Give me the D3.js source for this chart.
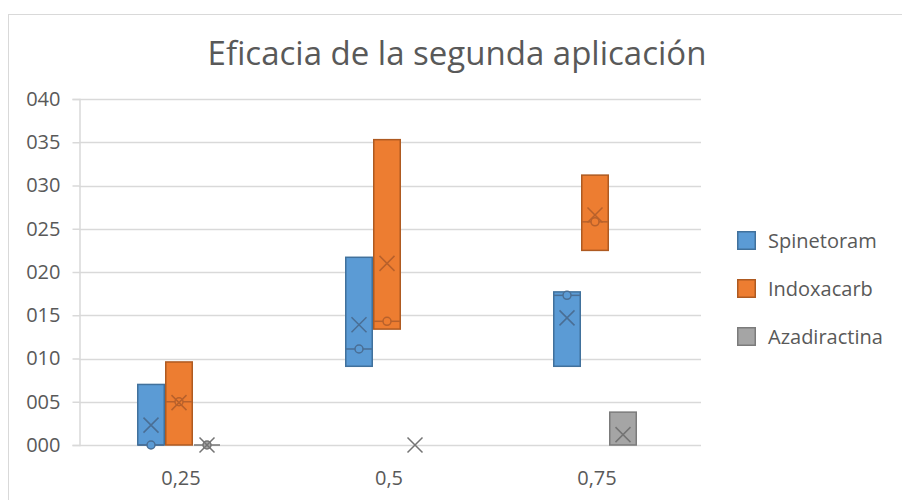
<!DOCTYPE html>
<html>
<head>
<meta charset="utf-8">
<script src="https://cdn.jsdelivr.net/npm/d3@7"></script>
<style>
  html, body { margin: 0; padding: 0; background: #ffffff; }
  svg { display: block; font-family: "Open Sans", sans-serif; }
</style>
</head>
<body>
<svg id="chart" width="902" height="500"></svg>
<script>
// Dose levels on the x axis and the three insecticides compared
const categories = ["0,25", "0,5", "0,75"];
const seriesNames = ["Spinetoram", "Indoxacarb", "Azadiractina"];

// Box statistics per insecticide, one value per dose
const q1Spinetoram = [0, 9.1, 9.1];
const q3Spinetoram = [7.0, 21.7, 17.7];
const medianSpinetoram = [0, 11.1, 17.3];
const meanSpinetoram = [2.3, 13.9, 14.7];

const q1Indoxacarb = [0, 13.4, 22.5];
const q3Indoxacarb = [9.6, 35.3, 31.2];
const medianIndoxacarb = [5.0, 14.3, 25.8];
const meanIndoxacarb = [4.9, 21.0, 26.6];

const q1Azadiractina = [0, 0, 0];
const q3Azadiractina = [0, 0, 3.8];
const medianAzadiractina = [0, null, null];
const meanAzadiractina = [0, 0, 1.2];

const yTicks = [0, 5, 10, 15, 20, 25, 30, 35, 40];

const seriesStats = {
  Spinetoram: { q1: q1Spinetoram, q3: q3Spinetoram, median: medianSpinetoram, mean: meanSpinetoram },
  Indoxacarb: { q1: q1Indoxacarb, q3: q3Indoxacarb, median: medianIndoxacarb, mean: meanIndoxacarb },
  Azadiractina: { q1: q1Azadiractina, q3: q3Azadiractina, median: medianAzadiractina, mean: meanAzadiractina }
};

const fills = { Spinetoram: "#5b9bd5", Indoxacarb: "#ed7d31", Azadiractina: "#a5a5a5" };
const strokes = { Spinetoram: "#41719c", Indoxacarb: "#ae5a21", Azadiractina: "#7b7b7b" };
const markColors = { Spinetoram: "#4a6e94", Indoxacarb: "#b8612b", Azadiractina: "#747474" };

const svg = d3.select("#chart");

// Chart area frame
svg.append("rect")
  .attr("x", 8.5).attr("y", 14.5)
  .attr("width", 902).attr("height", 500)
  .attr("fill", "#ffffff")
  .attr("stroke", "#d9d9d9").attr("stroke-width", 1);

const plotLeft = 79, plotRight = 701, plotTop = 99, plotBottom = 445;

const x = d3.scaleBand().domain(categories).range([75, 699]).padding(0);
const xs = d3.scaleBand().domain(seriesNames).range([-42, 42]).padding(0);
const y = d3.scaleLinear().domain([0, 40]).range([plotBottom, plotTop]);

// Title
svg.append("text")
  .attr("x", 457).attr("y", 65)
  .attr("text-anchor", "middle")
  .attr("font-size", 33)
  .attr("fill", "#595959")
  .text("Eficacia de la segunda aplicación");

// Horizontal gridlines
svg.append("g").selectAll("line")
  .data(yTicks)
  .join("line")
  .attr("x1", plotLeft).attr("x2", plotRight)
  .attr("y1", d => Math.round(y(d)) + 0.5).attr("y2", d => Math.round(y(d)) + 0.5)
  .attr("stroke", "#d9d9d9").attr("stroke-width", 1.5);

// Value axis with zero-padded labels
const yAxis = svg.append("g")
  .attr("transform", `translate(${plotLeft + 0.5},0)`)
  .call(d3.axisLeft(y).tickValues(yTicks).tickSize(7).tickPadding(12)
    .tickFormat(d => String(d).padStart(3, "0")));
yAxis.select(".domain").attr("stroke", "#d9d9d9").attr("stroke-width", 1.5);
yAxis.selectAll(".tick line").attr("stroke", "#d9d9d9").attr("stroke-width", 1.5);
yAxis.selectAll(".tick text")
  .attr("font-size", 20).attr("fill", "#595959")
  .attr("font-family", "'Open Sans', sans-serif");

// Category labels
svg.append("g").selectAll("text")
  .data(categories)
  .join("text")
  .attr("x", d => x(d) + x.bandwidth() / 2 + 2)
  .attr("y", 485)
  .attr("text-anchor", "middle")
  .attr("font-size", 20)
  .attr("fill", "#595959")
  .text(d => d);

// Boxes with median and mean markers
const boxes = [];
seriesNames.forEach(name => {
  const s = seriesStats[name];
  categories.forEach((c, i) => {
    boxes.push({ name, cat: c, q1: s.q1[i], q3: s.q3[i], median: s.median[i], mean: s.mean[i] });
  });
});

const boxG = svg.append("g");
boxes.forEach(b => {
  const x0 = x(b.cat) + x.bandwidth() / 2 + xs(b.name);
  const w = xs.bandwidth();
  const g = boxG.append("g");
  if (b.q3 > b.q1) {
    g.append("rect")
      .attr("x", x0 + 0.75).attr("y", y(b.q3))
      .attr("width", w - 1.5).attr("height", y(b.q1) - y(b.q3))
      .attr("fill", fills[b.name])
      .attr("stroke", strokes[b.name]).attr("stroke-width", 1.5);
  }
  const cx = x0 + w / 2;
  if (b.median !== null) {
    const my = y(b.median);
    g.append("line")
      .attr("x1", x0 + 1).attr("x2", x0 + w - 1)
      .attr("y1", my).attr("y2", my)
      .attr("stroke", markColors[b.name]).attr("stroke-width", 1.5);
    g.append("circle")
      .attr("cx", cx).attr("cy", my).attr("r", 4)
      .attr("fill", fills[b.name])
      .attr("stroke", markColors[b.name]).attr("stroke-width", 1.5);
  }
  const my2 = y(b.mean), h = 7.5;
  g.append("path")
    .attr("d", `M${cx - h},${my2 - h}L${cx + h},${my2 + h}M${cx - h},${my2 + h}L${cx + h},${my2 - h}`)
    .attr("stroke", markColors[b.name]).attr("stroke-width", 1.5)
    .attr("fill", "none");
});

// Legend
const legend = svg.append("g").selectAll("g")
  .data(seriesNames)
  .join("g")
  .attr("transform", (d, i) => `translate(737,${241 + i * 48})`);
legend.append("rect")
  .attr("x", 0.75).attr("y", -9.25)
  .attr("width", 17.5).attr("height", 17.5)
  .attr("fill", d => fills[d])
  .attr("stroke", d => strokes[d]).attr("stroke-width", 1.5);
legend.append("text")
  .attr("x", 31).attr("y", 0)
  .attr("dy", "0.35em")
  .attr("font-size", 20)
  .attr("fill", "#595959")
  .text(d => d);
</script>
</body>
</html>
